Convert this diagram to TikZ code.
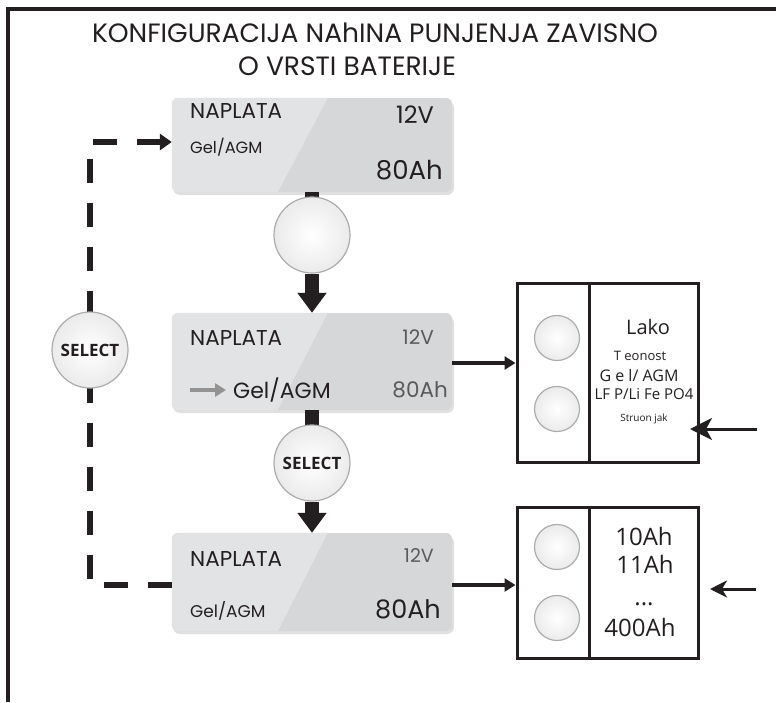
\documentclass[tikz,border=0pt]{standalone}
\usepackage{fontspec}
\setmainfont{Open Sans}
\newfontfamily\pop{Poppins}
\newfontfamily\opnb{Open Sans}
\usetikzlibrary{arrows.meta,calc}
\definecolor{ink}{HTML}{231F20}
\definecolor{gtxt}{HTML}{5A5A5A}
\definecolor{boxL}{HTML}{E2E3E5}
\definecolor{boxR}{HTML}{D6D7D9}
\tikzset{
  lcd/.style={rounded corners=6pt, minimum width=280pt, inner sep=0pt, fill=boxR},
  shadowbox/.style={rounded corners=7pt, fill=black, opacity=0.12},
  btn/.style={circle, minimum size=76pt, inner sep=0pt, draw=gray!65, line width=1.2pt, inner color=white, outer color=gray!16},
  sbtn/.style={btn, minimum size=45pt},
  panel/.style={draw=ink, line width=3pt, inner sep=0pt},
  flow/.style={ink, line width=14pt, -{Triangle[width=28pt,length=20pt]}},
  stem/.style={ink, line width=14pt},
  side/.style={ink, line width=4pt, -{Triangle[width=13pt,length=11pt]}},
  incoming/.style={ink, line width=3pt, -{Stealth[width=22pt,length=22pt,inset=6pt]}},
  dashline/.style={ink, line width=6pt, dash pattern=on 24pt off 20pt, -{Triangle[width=16pt,length=12pt]}},
  lbl/.style={inner sep=0pt, text=ink},
  seltxt/.style={font=\opnb\bfseries\fontsize{17}{17}\selectfont, text=ink},
}
\begin{document}
\begin{tikzpicture}[x=1pt,y=-1pt]
\useasboundingbox (0,0) rectangle (776,702);
% frame
\draw[ink, line width=4pt] (6,9) -- (776,9);
\draw[ink, line width=4pt] (8,7) -- (8,702);
% title
\node[lbl, font=\pop\fontsize{26.5}{26.5}\selectfont] (t1) at (375,33) {KONFIGURACIJA NAhINA PUNJENJA ZAVISNO};
\node[lbl, font=\pop\fontsize{26.5}{26.5}\selectfont] (t2) at (347,66) {O VRSTI BATERIJE};

% box shadows
\fill[shadowbox] (173,101) rectangle (454,195);
\fill[shadowbox] (173,316) rectangle (454,413);
\fill[shadowbox] (173,536) rectangle (454,634);
% boxes
\node[lcd, minimum height=94pt] (b1) at (312,145) {};
\node[lcd, minimum height=97pt] (b2) at (312,361.5) {};
\node[lcd, minimum height=98pt] (b3) at (312,582) {};
\begin{scope}
\clip[rounded corners=6pt] (b1.north west) rectangle (b1.south east);
\fill[boxL] (b1.north west) -- ++(156,0) -- ($(b1.south west)+(106,0)$) -- (b1.south west) -- cycle;
\end{scope}
\begin{scope}
\clip[rounded corners=6pt] (b2.north west) rectangle (b2.south east);
\fill[boxL] (b2.north west) -- ++(156,0) -- ($(b2.south west)+(106,0)$) -- (b2.south west) -- cycle;
\end{scope}
\begin{scope}
\clip[rounded corners=6pt] (b3.north west) rectangle (b3.south east);
\fill[boxL] (b3.north west) -- ++(156,0) -- ($(b3.south west)+(106,0)$) -- (b3.south west) -- cycle;
\end{scope}

% box 1 texts
\node[lbl, anchor=base west, font=\pop\fontsize{21.5}{21.5}\selectfont] (b1a) at (190,118.5) {NAPLATA};
\node[lbl, anchor=base east, font=\pop\fontsize{24}{24}\selectfont] (b1b) at (434,123.5) {12V};
\node[lbl, anchor=base west, font=\pop\fontsize{16.3}{16.3}\selectfont] (b1c) at (190,153.5) {Gel/AGM};
\node[lbl, anchor=base east, font=\pop\fontsize{26}{26}\selectfont] (b1d) at (443,179.5) {80Ah};
% box 2 texts
\node[lbl, anchor=base west, font=\pop\fontsize{21.5}{21.5}\selectfont] (b2a) at (190,345) {NAPLATA};
\node[lbl, anchor=base east, text=gtxt, font=\pop\fontsize{20}{20}\selectfont] (b2b) at (434,344) {12V};
\coordinate (ga) at (190,390);
\coordinate (gb) at (226,390);
\draw[gray!85, line width=4pt, -{Triangle[width=13pt,length=11pt]}] (ga) -- (gb);
\node[lbl, anchor=base west, font=\pop\fontsize{22}{22}\selectfont] (b2c) at (233,398) {Gel/AGM};
\node[lbl, anchor=base east, text=gtxt, font=\pop\fontsize{21.5}{21.5}\selectfont] (b2d) at (448,397.5) {80Ah};
% box 3 texts
\node[lbl, anchor=base west, font=\pop\fontsize{21.5}{21.5}\selectfont] (b3a) at (190,566) {NAPLATA};
\node[lbl, anchor=base east, text=gtxt, font=\pop\fontsize{19}{19}\selectfont] (b3b) at (434,562.5) {12V};
\node[lbl, anchor=base west, font=\pop\fontsize{17}{17}\selectfont] (b3c) at (190,617.5) {Gel/AGM};
\node[lbl, anchor=base east, font=\pop\fontsize{25.5}{25.5}\selectfont] (b3d) at (441,618) {80Ah};

% vertical flow
\draw[stem] (b1.south) -- (312,210);
\node[btn] (c1) at (312,235) {};
\draw[flow] (c1.south) -- (b2.north);
\draw[stem] (b2.south) -- (312,440);
\node[btn, seltxt] (c2) at (312,463) {SELECT};
\draw[flow] (c2.south) -- (b3.north);

% dashed loop
\coordinate (d1) at (90,585);
\coordinate (d2) at (90,142);
\coordinate (d3) at (b1.west |- d2);
\draw[dashline] (b3.west |- d1) -- (d1) -- (d2) -- (d3);
\node[btn, seltxt] (c3) at (90,350) {SELECT};

% right panels
\node[panel, minimum width=181pt, minimum height=179pt] (r1) at (607.5,372.5) {};
\draw[ink, line width=3pt] (589,283) -- (589,462);
\node[sbtn] (r1a) at (557,338) {};
\node[sbtn] (r1b) at (557,409) {};
\node[lbl, anchor=base, font=\fontsize{20}{20}\selectfont] (l1) at (648,334) {Lako};
\node[lbl, anchor=base, font=\fontsize{13}{13}\selectfont] (l2) at (640,360.5) {T eonost};
\node[lbl, anchor=base, font=\fontsize{16}{16}\selectfont] (l3) at (639,381) {G e l/ AGM};
\node[lbl, anchor=base, font=\fontsize{15}{15}\selectfont] (l4) at (644,399.5) {LF P/Li Fe PO4};
\node[lbl, anchor=base, font=\fontsize{10}{10}\selectfont] (l5) at (644,421.5) {Struon jak};

\node[panel, minimum width=181pt, minimum height=151pt] (r2) at (607.5,582.5) {};
\draw[ink, line width=3pt] (589,507) -- (589,658);
\node[sbtn] (r2a) at (557,547) {};
\node[sbtn] (r2b) at (557,618) {};
\node[lbl, anchor=base, font=\fontsize{24}{24}\selectfont] (m1) at (644,545.5) {10Ah};
\node[lbl, anchor=base, font=\fontsize{24}{24}\selectfont] (m2) at (645,573.5) {11Ah};
\node[lbl, anchor=base, font=\fontsize{24}{24}\selectfont] (m3) at (644,605) {...};
\node[lbl, anchor=base, font=\fontsize{24}{24}\selectfont] (m4) at (640,636.5) {400Ah};

% side arrows
\draw[side] (b2.east |- 0,363) -- (r1.west |- 0,363);
\draw[side] (b3.east |- 0,585) -- (r2.west |- 0,585);
\coordinate (e1) at (757,429);
\coordinate (e2) at (756,589);
\draw[incoming] (e1) -- (690,429);
\draw[incoming, -{Stealth[width=17pt,length=17pt,inset=5pt]}] (e2) -- (710,589);
\end{tikzpicture}
\end{document}
